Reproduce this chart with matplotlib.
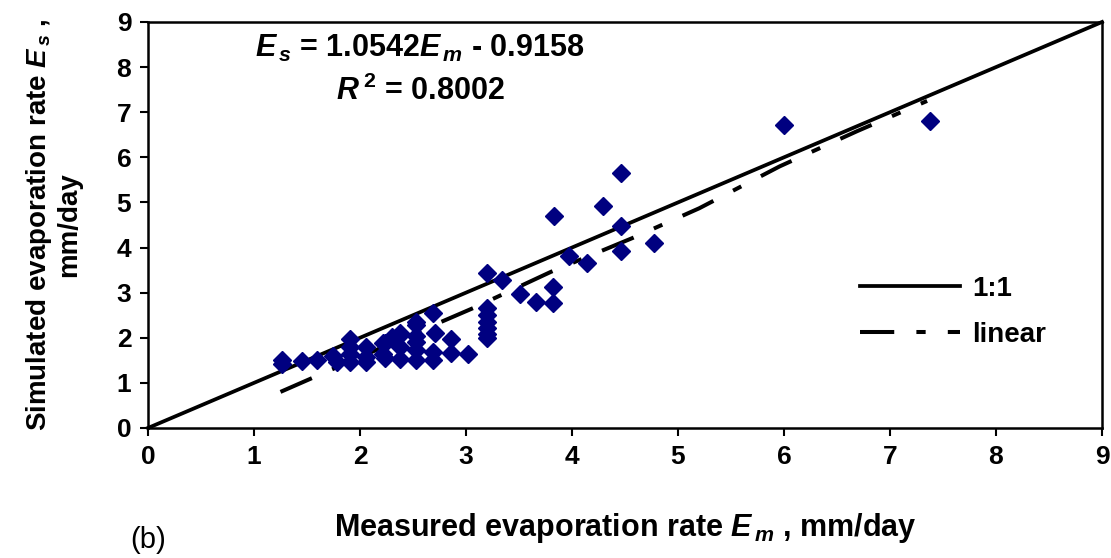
import matplotlib
matplotlib.use("Agg")
import matplotlib.pyplot as plt

# ── data ─────────────────────────────────────────────────────────────────────
measured = [
    1.26, 1.26, 1.45, 1.59, 1.75, 1.78,
    1.91, 1.91, 1.91, 1.91,
    2.06, 2.06, 2.06, 2.22, 2.22, 2.24, 2.24, 2.30,
    2.38, 2.38, 2.38, 2.38,
    2.53, 2.53, 2.53, 2.53, 2.53, 2.53,
    2.69, 2.69, 2.69, 2.71,
    2.86, 2.86, 3.02,
    3.20, 3.20, 3.20, 3.20, 3.20, 3.20, 3.20,
    3.34, 3.51, 3.66, 3.82, 3.82, 3.83, 3.97, 4.14,
    4.29, 4.46, 4.46, 4.46, 4.77, 6.00, 7.38,
]
simulated = [
    1.50, 1.42, 1.49, 1.51, 1.60, 1.47,
    1.97, 1.80, 1.65, 1.47,
    1.80, 1.58, 1.47, 1.88, 1.65, 1.88, 1.55, 2.02,
    2.10, 1.80, 1.52, 2.06,
    2.28, 1.91, 1.73, 1.51, 2.35, 2.05,
    2.54, 1.69, 1.51, 2.11,
    1.97, 1.67, 1.63,
    3.43, 2.65, 2.50, 2.35, 2.22, 2.08, 2.00,
    3.28, 2.96, 2.79, 3.13, 2.78, 4.69, 3.82, 3.65,
    4.91, 5.66, 4.48, 3.93, 4.10, 6.72, 6.81,
]

# 1:1 reference line and the trend line as drawn in the figure
one_x = [0, 1, 2, 3, 4, 5, 6, 7, 7.5, 8, 9]
one_y = [0, 1, 2, 3, 4, 5, 6, 7, 7.5, 8, 9]
lin_x = [1.25, 2.30, 3.07, 3.80, 4.57, 5.20, 5.96, 6.69, 7.35]
lin_y = [0.80, 1.88, 2.66, 3.46, 4.21, 4.87, 5.80, 6.58, 7.25]

ticks = list(range(0, 10))

# ── style ────────────────────────────────────────────────────────────────────
plt.rcParams["font.family"] = ["Liberation Sans", "DejaVu Sans"]
plt.rcParams["font.weight"] = "bold"
plt.rcParams["mathtext.fontset"] = "custom"
plt.rcParams["mathtext.rm"] = "Liberation Sans:bold"
plt.rcParams["mathtext.it"] = "Liberation Sans:bold:italic"
plt.rcParams["mathtext.bf"] = "Liberation Sans:bold"

fig = plt.figure(figsize=(11.11, 5.58), dpi=100)
ax = fig.add_axes([0.1332, 0.233, 0.8587, 0.7276])

ax.plot(one_x, one_y, color="black", lw=2.7, zorder=2, clip_on=False, label="1:1")
ax.plot(lin_x, lin_y, color="black", lw=2.9, zorder=2,
        linestyle=(0, (8.5, 5.5, 2.3, 5.5)), label="linear")
ax.plot(measured, simulated, linestyle="none", marker="D", markersize=9,
        color="#000080", markeredgecolor="#000080", zorder=3)

ax.set_xlim(0, 9)
ax.set_ylim(0, 9)
ax.set_xticks(ticks)
ax.set_yticks(ticks)
ax.tick_params(direction="out", length=6, width=1.5, labelsize=19, pad=6)
for s in ax.spines.values():
    s.set_linewidth(1.8)

ax.set_xlabel(r"Measured evaporation rate $E_{\,m}$ , mm/day", fontsize=22,
              fontweight="bold")
ax.xaxis.set_label_coords(0.5, -0.205)
ax.set_ylabel(r"Simulated evaporation rate $E_{\,s}$ ," + "\nmm/day", fontsize=20,
              fontweight="bold", linespacing=1.1)
ax.yaxis.set_label_coords(-0.069, 0.5)

ax.text(0.285, 0.935, r"$E_{\,s}$ = 1.0542$E_{\,m}$ - 0.9158", transform=ax.transAxes,
        fontsize=22, fontweight="bold", ha="center", va="center")
ax.text(0.285, 0.83, r"$R^{\,2}$ = 0.8002", transform=ax.transAxes,
        fontsize=22, fontweight="bold", ha="center", va="center")

ax.legend(loc="upper left", bbox_to_anchor=(0.746, 0.374), frameon=False,
          fontsize=20, handlelength=3.6, handletextpad=0.45, labelspacing=0.7,
          borderpad=0, borderaxespad=0)

fig.text(0.117, 0.008, "(b)", fontsize=21, fontweight="normal", va="bottom")

fig.savefig("out.png", dpi=100)
